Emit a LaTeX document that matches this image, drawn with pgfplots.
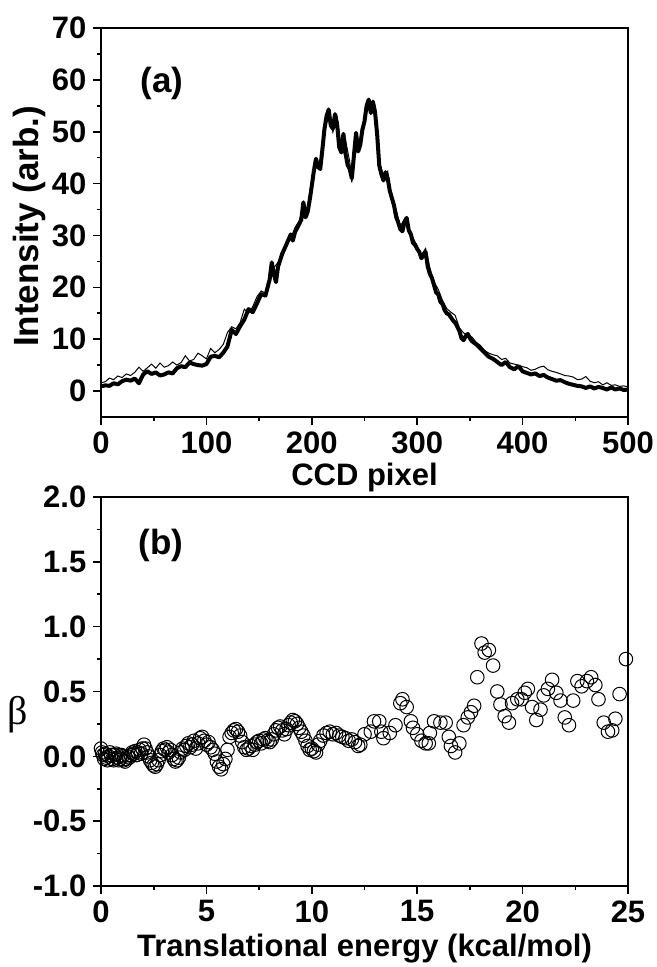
\documentclass[border=0pt]{standalone}
\usepackage{fontspec}
\setmainfont{Liberation Sans}
\newfontfamily\seriffont{Liberation Serif}
\usepackage{pgfplots}
\pgfplotsset{compat=1.18}

\pgfplotstableread{
p I
0 0.9
4 1.1
8 1.0
12 1.5
16 1.3
20 1.9
24 2.2
28 2.0
32 2.4
36 1.5
40 3.2
44 3.8
48 3.3
52 3.6
56 3.0
60 3.2
64 3.6
68 3.4
72 4.4
76 4.8
80 4.6
84 5.5
88 5.2
92 5.0
96 4.9
100 5.2
104 6.6
108 6.8
112 6.5
116 7.4
120 8.6
124 11.8
128 11.0
132 12.5
136 13.8
140 15.8
144 15.2
148 16.9
152 18.7
156 18.4
160 21.5
162 24.8
164 22.6
166 21.0
168 24.0
172 26.5
176 28.3
180 30.2
182 29.0
184 30.6
188 32.2
190 33.0
192 36.4
194 33.5
196 34.5
198 36.8
200 39.6
202 42.5
204 44.8
206 43.2
208 42.8
210 46.5
212 50.5
214 53.0
216 54.3
218 51.2
220 50.6
222 53.4
224 51.5
226 47.0
228 46.0
230 49.6
232 45.8
234 43.6
236 42.8
238 41.0
240 45.5
242 49.8
244 46.2
246 47.5
248 50.4
250 52.0
252 55.0
254 56.2
256 53.6
258 55.8
260 53.8
262 49.5
264 43.5
266 41.8
268 40.6
270 42.2
272 41.0
274 38.6
276 37.2
278 35.8
280 33.6
282 32.5
284 31.2
286 30.8
288 32.6
290 33.4
292 31.0
294 30.2
296 28.6
298 28.2
300 27.4
302 26.8
304 25.6
306 26.2
308 26.8
310 24.0
312 22.6
314 21.8
316 20.4
318 19.0
320 18.6
322 17.2
324 16.8
326 15.6
328 15.0
330 14.8
332 14.2
334 13.6
336 13.2
338 12.4
340 11.6
342 10.2
344 9.8
346 10.6
348 11.0
350 10.2
352 9.6
356 9.0
360 8.2
364 7.4
368 6.6
372 6.2
376 5.6
380 5.0
384 5.6
388 4.6
392 4.2
396 4.8
400 3.8
404 3.5
408 3.2
412 3.4
416 2.9
420 3.1
424 2.6
428 2.3
432 2.0
436 2.1
440 1.7
444 1.4
448 1.2
452 1.0
456 0.9
460 0.6
464 0.9
468 0.5
472 0.8
476 0.6
480 0.3
484 0.7
488 0.3
492 0.5
496 0.2
500 0.3
}\thick

\pgfplotstableread{
p I
0 1.6
4 1.8
8 2.5
12 2.2
16 2.9
20 2.6
24 3.3
28 3.0
32 3.6
36 4.6
40 3.8
44 4.5
48 5.2
52 4.4
56 5.4
60 4.6
64 4.9
68 5.6
72 5.0
76 5.5
80 6.8
84 5.8
88 6.1
92 7.3
96 6.8
100 6.2
104 8.2
108 7.4
112 8.0
116 9.0
120 11.3
124 12.4
128 12.0
132 13.2
136 15.8
140 15.0
144 16.3
148 18.2
152 19.3
156 18.9
160 22.0
164 23.8
168 24.8
172 26.2
176 29.0
180 29.4
184 31.5
188 32.8
192 35.6
196 33.8
200 40.5
204 43.8
208 43.9
212 49.8
216 53.6
220 49.9
224 52.8
228 46.8
232 48.4
236 44.2
238 40.2
240 44.8
244 47.4
248 49.8
252 53.9
256 55.2
260 54.6
264 44.2
268 41.5
272 42.4
276 36.6
280 35.0
284 31.8
288 33.2
292 30.4
296 29.6
300 27.9
304 26.3
308 27.5
312 23.8
316 21.0
320 19.6
324 17.5
328 15.9
332 15.2
336 14.6
340 12.2
344 11.2
348 10.8
352 10.4
356 9.4
360 8.8
364 7.8
368 7.3
372 7.0
376 6.8
380 6.1
384 6.3
388 5.4
392 5.2
396 5.0
400 4.7
404 4.5
408 4.0
412 4.2
416 4.6
420 4.8
424 4.1
428 3.8
432 3.6
436 3.3
440 3.0
444 2.9
448 2.7
452 2.2
456 2.3
460 2.8
464 1.9
468 1.6
472 1.8
476 1.2
480 1.6
484 1.1
488 1.2
492 0.9
496 1.0
500 0.8
}\thin

\pgfplotstableread{
E b
0.00 0.06
0.05 0.03
0.10 0.01
0.15 -0.02
0.20 0.02
0.25 -0.01
0.30 -0.03
0.36 0.00
0.42 0.03
0.48 0.01
0.54 -0.02
0.60 -0.03
0.66 0.01
0.72 0.02
0.78 -0.01
0.84 -0.03
0.90 -0.02
0.96 0.01
1.02 0.00
1.08 -0.03
1.14 -0.04
1.20 -0.02
1.27 0.00
1.34 -0.01
1.41 0.01
1.48 0.03
1.55 0.02
1.62 0.04
1.69 0.01
1.76 0.03
1.83 0.05
1.90 0.02
1.97 0.06
2.04 0.09
2.11 0.06
2.18 0.03
2.25 0.00
2.33 -0.03
2.41 -0.05
2.49 -0.07
2.57 -0.08
2.65 -0.06
2.73 -0.03
2.81 0.01
2.89 0.04
2.97 0.06
3.05 0.05
3.13 0.07
3.21 0.03
3.29 0.05
3.37 0.01
3.45 -0.02
3.53 -0.04
3.61 -0.03
3.69 -0.01
3.78 0.03
3.87 0.06
3.96 0.05
4.05 0.08
4.14 0.10
4.23 0.07
4.32 0.09
4.41 0.12
4.50 0.06
4.60 0.10
4.70 0.14
4.80 0.15
4.90 0.12
5.00 0.09
5.10 0.11
5.20 0.07
5.30 0.05
5.40 0.02
5.50 -0.04
5.60 -0.08
5.70 -0.10
5.80 -0.06
5.90 -0.02
6.00 0.05
6.10 0.15
6.20 0.18
6.30 0.20
6.40 0.21
6.50 0.19
6.60 0.16
6.70 0.11
6.80 0.07
6.90 0.05
7.00 0.06
7.10 0.08
7.20 0.05
7.30 0.09
7.40 0.11
7.50 0.12
7.60 0.10
7.70 0.13
7.80 0.14
7.90 0.12
8.00 0.11
8.10 0.13
8.20 0.17
8.30 0.20
8.40 0.22
8.50 0.23
8.60 0.20
8.70 0.17
8.80 0.21
8.90 0.24
9.00 0.26
9.10 0.28
9.20 0.27
9.30 0.25
9.40 0.22
9.50 0.19
9.60 0.16
9.70 0.12
9.80 0.08
9.90 0.05
10.00 0.06
10.10 0.04
10.20 0.03
10.30 0.09
10.40 0.12
10.55 0.16
10.70 0.18
10.85 0.19
11.00 0.17
11.15 0.18
11.30 0.16
11.45 0.15
11.60 0.14
11.75 0.12
11.90 0.13
12.05 0.11
12.20 0.08
12.30 0.09
12.50 0.17
12.80 0.19
12.95 0.27
13.20 0.27
13.30 0.19
13.40 0.14
13.70 0.18
13.97 0.24
14.20 0.41
14.30 0.44
14.50 0.38
14.70 0.27
14.80 0.22
15.00 0.17
15.20 0.12
15.40 0.10
15.55 0.10
15.60 0.18
15.80 0.27
16.10 0.26
16.35 0.26
16.50 0.15
16.60 0.08
16.80 0.03
17.00 0.10
17.20 0.24
17.40 0.30
17.55 0.34
17.70 0.39
17.85 0.61
18.05 0.87
18.20 0.80
18.40 0.82
18.60 0.70
18.80 0.50
18.95 0.40
19.15 0.31
19.35 0.26
19.50 0.41
19.75 0.44
19.95 0.44
20.10 0.49
20.25 0.52
20.45 0.38
20.65 0.28
20.85 0.36
21.00 0.47
21.20 0.52
21.40 0.59
21.60 0.49
21.80 0.43
22.00 0.30
22.20 0.24
22.40 0.43
22.60 0.58
22.80 0.54
23.05 0.58
23.25 0.61
23.45 0.55
23.60 0.44
23.85 0.26
24.05 0.19
24.25 0.20
24.40 0.29
24.60 0.48
24.90 0.75
}\beta

\pgfplotsset{
  panel/.style={
    scale only axis, width=263.5pt, height=194.5pt,
    axis line style={line width=1pt},
    tick align=outside, xtick pos=bottom, ytick pos=left,
    major tick length=3.8pt, minor tick length=2pt,
    tick style={black, line width=0.8pt},
    minor x tick num=1, minor y tick num=1,
    /pgf/number format/assume math mode=true,
    tick label style={font=\bfseries\fontsize{15.5}{18}\selectfont},
    label style={font=\bfseries\fontsize{15.5}{18}\selectfont},
  }
}

\begin{document}
\begin{tikzpicture}
\begin{axis}[panel,
  xmin=0, xmax=25, ymin=-1, ymax=2,
  xtick={0,5,...,25}, ytick={-1,-0.5,...,2},
  yticklabel style={/pgf/number format/.cd, fixed, fixed zerofill, precision=1},
  xlabel={Translational energy (kcal/mol)},
  xlabel style={at={(axis description cs:0.5,-0.180)}, anchor=base},
  ylabel={\seriffont\mdseries\fontsize{20}{23}\selectfont β},
  ylabel style={at={(axis description cs:-0.158,0.44)}, anchor=center, rotate=-90},
]
\addplot[only marks, mark=o, mark size=3.4pt, mark options={fill=white, draw=black, line width=0.5pt}] table[x=E, y=b] {\beta};
\node[font=\bfseries\fontsize{17.5}{20}\selectfont] at (axis cs:2.85,1.63) {(b)};
\end{axis}

\begin{axis}[panel, at={(0,234.5pt)},
  xmin=0, xmax=500, ymin=-5, ymax=70,
  xtick={0,100,...,500}, ytick={0,10,...,70},
  xlabel={CCD pixel},
  xlabel style={at={(axis description cs:0.5,-0.177)}, anchor=base},
  ylabel={Intensity (arb.)},
  ylabel style={at={(axis description cs:-0.1195,0.49)}, anchor=base, font=\bfseries\fontsize{17.5}{20}\selectfont},
]
\addplot[black, line width=0.5pt] table[x=p, y=I] {\thin};
\addplot[black, line width=2pt, line join=round] table[x=p, y=I] {\thick};
\node[font=\bfseries\fontsize{17.5}{20}\selectfont] at (axis cs:58,59.4) {(a)};
\end{axis}
\pgfresetboundingbox
\path[use as bounding box] (-50.5pt,-40.5pt) rectangle (278pt,443pt);
\end{tikzpicture}
\end{document}
